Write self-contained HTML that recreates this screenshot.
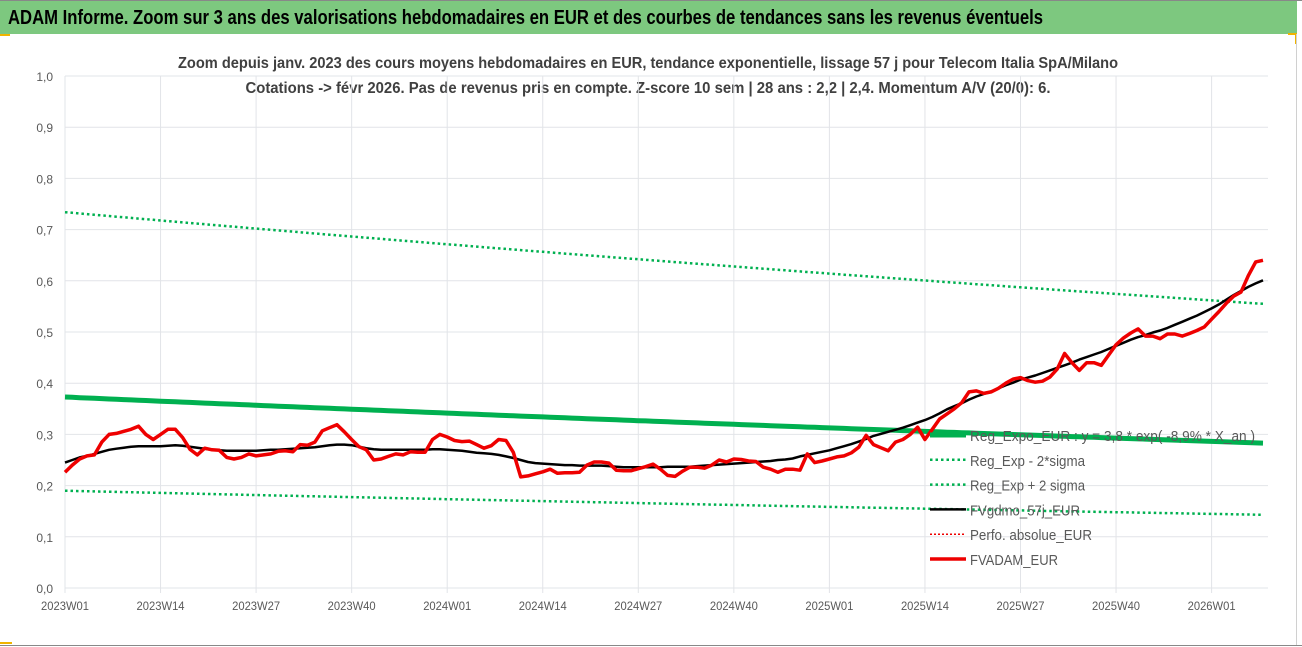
<!DOCTYPE html>
<html><head><meta charset="utf-8"><style>
html,body{margin:0;padding:0;background:#fff}
svg{display:block;font-family:"Liberation Sans",sans-serif}
</style></head><body>
<svg id="chart" width="1302" height="647" viewBox="0 0 1302 647" xmlns="http://www.w3.org/2000/svg">
<rect x="0" y="0" width="1302" height="647" fill="#fff"/>
<rect x="0" y="0" width="1297" height="34" fill="#7dc87f"/>
<line x1="0" y1="0.5" x2="1302" y2="0.5" stroke="#888"/>
<text x="8" y="24" font-size="20" font-weight="bold" fill="#000" textLength="1035" lengthAdjust="spacingAndGlyphs">ADAM Informe. Zoom sur 3 ans des valorisations hebdomadaires en EUR et des courbes de tendances sans les revenus éventuels</text>
<rect x="0" y="34" width="10" height="2" fill="#f0b400"/>
<path d="M1288 34 h8 v10" stroke="#f0b400" stroke-width="2" fill="none"/>
<line x1="1296.5" y1="34" x2="1296.5" y2="645" stroke="#d0d0d0"/>
<line x1="0" y1="645.5" x2="1302" y2="645.5" stroke="#888"/>
<rect x="0" y="642" width="12" height="2" fill="#f0b400"/>
<text x="648" y="68" text-anchor="middle" font-size="16" font-weight="bold" fill="#404040" textLength="940" lengthAdjust="spacingAndGlyphs">Zoom depuis janv. 2023 des cours moyens hebdomadaires en EUR, tendance exponentielle, lissage 57 j pour Telecom Italia SpA/Milano</text>
<text x="648" y="93" text-anchor="middle" font-size="16" font-weight="bold" fill="#404040" textLength="805" lengthAdjust="spacingAndGlyphs">Cotations -&gt; févr 2026.  Pas de revenus pris en compte. Z-score 10 sem | 28 ans : 2,2 | 2,4. Momentum A/V (20/0): 6.</text>
<g id="grid"></g>
<g id="series"></g>
<g id="legend"></g>
</svg>
<script>
// ---- data ----
const yTicks = ["0,0","0,1","0,2","0,3","0,4","0,5","0,6","0,7","0,8","0,9","1,0"];
const yTickValues = [0,0.1,0.2,0.3,0.4,0.5,0.6,0.7,0.8,0.9,1.0];
const xTickLabels = ["2023W01","2023W14","2023W27","2023W40","2024W01","2024W14","2024W27","2024W40","2025W01","2025W14","2025W27","2025W40","2026W01"];
const xTickWeeks = [0,13,26,39,52,65,78,91,104,117,130,143,156];
const fvadam = [0.226,0.24,0.252,0.258,0.26,0.285,0.30,0.302,0.306,0.31,0.316,0.30,0.29,0.30,0.31,0.31,0.294,0.271,0.26,0.273,
0.27,0.269,0.255,0.252,0.255,0.262,0.258,0.26,0.262,0.267,0.268,0.266,0.28,0.279,0.285,0.307,0.313,0.319,0.305,0.29,
0.276,0.27,0.25,0.252,0.257,0.262,0.26,0.266,0.265,0.265,0.29,0.30,0.295,0.288,0.286,0.287,0.28,0.273,0.278,0.29,
0.288,0.265,0.217,0.219,0.223,0.227,0.232,0.224,0.225,0.225,0.226,0.24,0.246,0.246,0.244,0.23,0.229,0.229,0.233,0.237,
0.242,0.232,0.22,0.218,0.228,0.236,0.236,0.234,0.24,0.25,0.246,0.252,0.251,0.248,0.247,0.236,0.232,0.226,0.232,0.232,
0.23,0.262,0.245,0.248,0.252,0.256,0.258,0.264,0.275,0.298,0.28,0.274,0.268,0.285,0.29,0.30,0.314,0.29,0.31,0.33,
0.34,0.35,0.362,0.383,0.385,0.38,0.383,0.39,0.40,0.408,0.411,0.405,0.402,0.404,0.412,0.428,0.458,0.44,0.425,0.44,
0.44,0.435,0.455,0.475,0.488,0.498,0.506,0.492,0.492,0.487,0.496,0.496,0.492,0.497,0.503,0.51,0.525,0.54,0.556,0.57,
0.578,0.61,0.637,0.64];
const fvgdmo = [0.245,0.25,0.255,0.258,0.262,0.266,0.27,0.272,0.274,0.276,0.277,0.277,0.277,0.277,0.278,0.279,0.278,0.276,0.274,0.272,
0.27,0.269,0.268,0.268,0.268,0.268,0.268,0.269,0.27,0.27,0.271,0.272,0.273,0.274,0.275,0.277,0.279,0.28,0.28,0.279,
0.276,0.273,0.271,0.27,0.27,0.27,0.27,0.27,0.27,0.27,0.271,0.271,0.27,0.269,0.268,0.266,0.264,0.263,0.262,0.26,
0.257,0.254,0.25,0.246,0.244,0.243,0.242,0.241,0.24,0.24,0.239,0.239,0.239,0.239,0.238,0.237,0.236,0.236,0.236,0.236,
0.236,0.236,0.237,0.237,0.237,0.237,0.238,0.239,0.24,0.241,0.242,0.243,0.244,0.245,0.246,0.247,0.248,0.25,0.251,0.253,
0.257,0.26,0.263,0.266,0.269,0.273,0.277,0.281,0.286,0.291,0.297,0.301,0.305,0.309,0.313,0.318,0.323,0.328,0.334,0.341,
0.349,0.355,0.361,0.368,0.374,0.379,0.384,0.39,0.396,0.401,0.407,0.411,0.415,0.42,0.425,0.43,0.435,0.44,0.446,0.451,
0.456,0.461,0.467,0.473,0.479,0.485,0.49,0.494,0.499,0.503,0.508,0.514,0.52,0.526,0.532,0.539,0.546,0.554,0.563,0.572,
0.58,0.588,0.595,0.601];
const regEnds = [0.373,0.283];
const regPlusEnds = [0.734,0.555];
const regMinusEnds = [0.19,0.143];
const legendLabels = ["Reg_Expo_EUR : y = 3,8 * exp( -8,9% * X_an )","Reg_Exp - 2*sigma","Reg_Exp + 2 sigma","FVgdmo_57j_EUR","Perfo. absolue_EUR","FVADAM_EUR"];

// ---- axes ----
const X0 = 65, WK = 7.35, Y0 = 588, YPX = 512;
const nWeeks = fvadam.length;
function xs(i){ return X0 + i*WK; }
function ys(v){ return Y0 - v*YPX; }
const NS = "http://www.w3.org/2000/svg";
function mk(tag, attrs, parent){ const e=document.createElementNS(NS,tag); for(const k in attrs) e.setAttribute(k,attrs[k]); parent.appendChild(e); return e; }
const grid = document.getElementById('grid'), series = document.getElementById('series'), legend = document.getElementById('legend');
const xEnd = 1268;
yTickValues.forEach((v,k)=>{
  const l = mk('line',{x1:X0,x2:xEnd,y1:ys(v),y2:ys(v),stroke:'#e2e4e8','stroke-width':1},grid);
  
  
  const t = mk('text',{x:53,y:ys(v)+5,'text-anchor':'end','font-size':12,fill:'#595959'},grid);
  t.textContent = yTicks[k];
  
  
});
xTickWeeks.forEach((w,k)=>{
  const x = xs(w);
  const l = mk('line',{x1:x,x2:x,y1:ys(1),y2:Y0+5,stroke:'#e2e4e8','stroke-width':1},grid);
  
  
  const t = mk('text',{x:x,y:610,'text-anchor':'middle','font-size':12,fill:'#595959',textLength:48,lengthAdjust:'spacingAndGlyphs'},grid);
  t.textContent = xTickLabels[k];
  
  
});
function expLine(ends){
  const pts=[]; const r=Math.log(ends[1]/ends[0]);
  for(let i=0;i<nWeeks;i++){ const v=ends[0]*Math.exp(r*i/(nWeeks-1)); pts.push(xs(i).toFixed(1)+','+ys(v).toFixed(1)); }
  return pts.join(' ');
}
function arrLine(arr){ return arr.map((v,i)=>xs(i).toFixed(1)+','+ys(v).toFixed(1)).join(' '); }
const up = mk('polyline',{points:expLine(regPlusEnds),fill:'none',stroke:'#00b050','stroke-width':2.5,'stroke-dasharray':'2.5 3'},series);


const lo = mk('polyline',{points:expLine(regMinusEnds),fill:'none',stroke:'#00b050','stroke-width':2.5,'stroke-dasharray':'2.5 3'},series);


const reg = mk('polyline',{points:expLine(regEnds),fill:'none',stroke:'#00b050','stroke-width':5},series);


const blk = mk('polyline',{points:arrLine(fvgdmo),fill:'none',stroke:'#000','stroke-width':2.5,'stroke-linejoin':'round'},series);


const red = mk('polyline',{points:arrLine(fvadam),fill:'none',stroke:'#ee0000','stroke-width':3.5,'stroke-linejoin':'round'},series);



// ---- legend ----
const legStyles = [
  {stroke:'#00b050',w:5,dash:''},
  {stroke:'#00b050',w:2.5,dash:'2.5 3'},
  {stroke:'#00b050',w:2.5,dash:'2.5 3'},
  {stroke:'#000',w:2.5,dash:''},
  {stroke:'#ee0000',w:1.5,dash:'2 2'},
  {stroke:'#ee0000',w:3.5,dash:''}
];
const legWidths = [285,115,115,110,122,88];
legendLabels.forEach((lab,k)=>{
  const y = 435 + k*24.8;
  const s = legStyles[k];
  const l = mk('line',{x1:930,x2:966,y1:y,y2:y,stroke:s.stroke,'stroke-width':s.w},legend);
  if(s.dash) l.setAttribute('stroke-dasharray',s.dash);
  
  
  const t = mk('text',{x:970,y:y+6,'font-size':15,fill:'#595959',textLength:legWidths[k],lengthAdjust:'spacingAndGlyphs'},legend);
  t.textContent = lab;
  
  
});
</script>
</body></html>
